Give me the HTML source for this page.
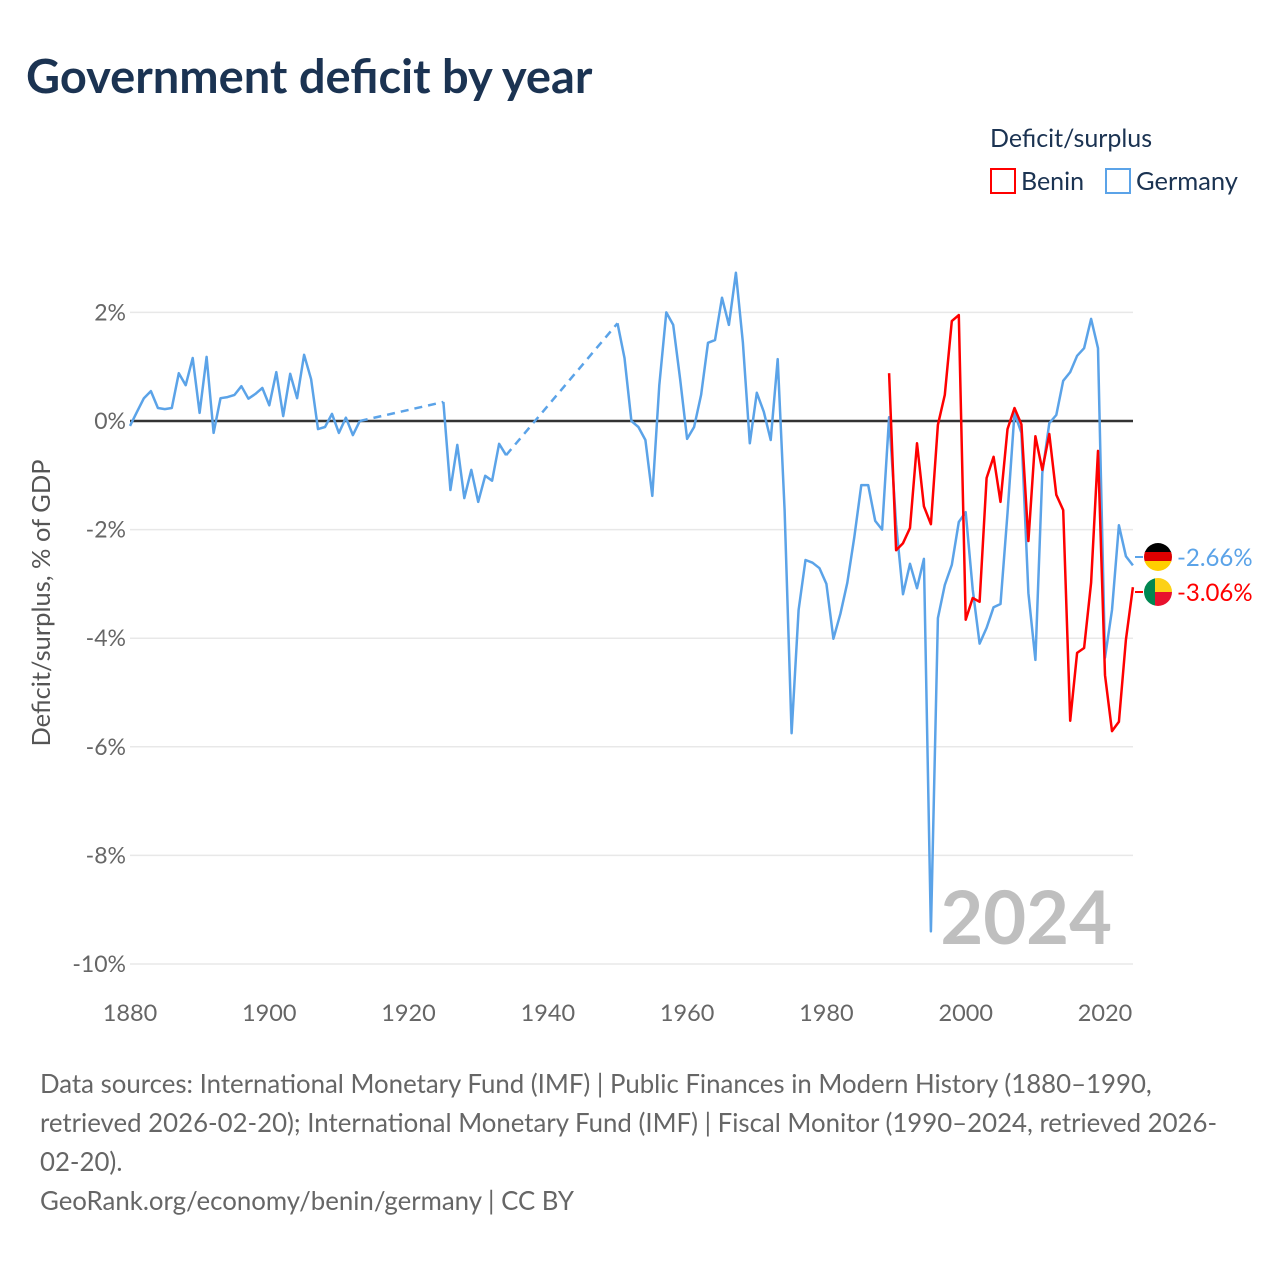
<!DOCTYPE html>
<html><head><meta charset="utf-8"><style>
body{margin:0;background:#fff;font-family:"Liberation Sans",sans-serif;}
svg text{font-family:"Lato","Liberation Sans",sans-serif;}
</style></head><body>
<svg id="chart" width="1280" height="1280" viewBox="0 0 1280 1280" xmlns="http://www.w3.org/2000/svg">
<text x="26" y="93" font-size="47" font-weight="bold" fill="#1b3352">Government deficit by year</text>
<text x="990" y="147" font-size="25" fill="#1b3352">Deficit/surplus</text>
<g><rect x="991" y="169" width="24" height="24" fill="none" stroke="#ff0000" stroke-width="2"/><text x="1021" y="190" font-size="25" fill="#1b3352">Benin</text></g>
<g><rect x="1106" y="169" width="24" height="24" fill="none" stroke="#5ba3e8" stroke-width="2"/><text x="1136" y="190" font-size="25.5" fill="#1b3352">Germany</text></g>
<g id="grid"></g><g id="yticks"></g><g id="xticks"></g>
<text transform="translate(50,603) rotate(-90)" text-anchor="middle" font-size="25.5" fill="#555">Deficit/surplus, % of GDP</text>
<text x="1112" y="944" text-anchor="end" font-size="74" font-weight="bold" fill="#bfbfbf">2024</text>
<g id="series"></g>
<g id="endlabels"></g>
<text font-size="25.8" fill="#666"><tspan x="40" y="1093">Data sources: International Monetary Fund (IMF) | Public Finances in Modern History (1880–1990,</tspan><tspan x="40" y="1132">retrieved 2026-02-20); International Monetary Fund (IMF) | Fiscal Monitor (1990–2024, retrieved 2026-</tspan><tspan x="40" y="1171">02-20).</tspan><tspan x="40" y="1210">GeoRank.org/economy/benin/germany | CC BY</tspan></text>
</svg>
<script>
const yTicks=[2,0,-2,-4,-6,-8,-10];
const xTicks=[1880,1900,1920,1940,1960,1980,2000,2020];
const germanyYears=[1880,1881,1882,1883,1884,1885,1886,1887,1888,1889,1890,1891,1892,1893,1894,1895,1896,1897,1898,1899,1900,1901,1902,1903,1904,1905,1906,1907,1908,1909,1910,1911,1912,1913,1925,1926,1927,1928,1929,1930,1931,1932,1933,1934,1950,1951,1952,1953,1954,1955,1956,1957,1958,1959,1960,1961,1962,1963,1964,1965,1966,1967,1968,1969,1970,1971,1972,1973,1974,1975,1976,1977,1978,1979,1980,1981,1982,1983,1984,1985,1986,1987,1988,1989,1990,1991,1992,1993,1994,1995,1996,1997,1998,1999,2000,2001,2002,2003,2004,2005,2006,2007,2008,2009,2010,2011,2012,2013,2014,2015,2016,2017,2018,2019,2020,2021,2022,2023,2024];
const germanyValues=[-0.09,0.17,0.42,0.55,0.24,0.22,0.24,0.88,0.66,1.16,0.15,1.18,-0.22,0.42,0.44,0.48,0.64,0.41,0.5,0.61,0.29,0.9,0.09,0.87,0.42,1.22,0.77,-0.15,-0.11,0.13,-0.22,0.06,-0.26,0.0,0.35,-1.27,-0.44,-1.42,-0.9,-1.49,-1.01,-1.1,-0.42,-0.63,1.8,1.16,0.0,-0.11,-0.35,-1.38,0.66,2.0,1.77,0.76,-0.33,-0.11,0.48,1.44,1.49,2.27,1.77,2.73,1.44,-0.41,0.52,0.17,-0.35,1.14,-1.64,-5.75,-3.48,-2.56,-2.61,-2.71,-3.0,-4.01,-3.55,-2.98,-2.14,-1.18,-1.18,-1.84,-2.0,0.07,-1.9,-3.19,-2.63,-3.08,-2.54,-9.4,-3.63,-3.02,-2.65,-1.86,-1.68,-3.1,-4.1,-3.81,-3.43,-3.37,-1.7,0.15,-0.22,-3.17,-4.4,-0.96,-0.04,0.11,0.74,0.9,1.2,1.34,1.88,1.34,-4.36,-3.48,-1.92,-2.49,-2.66];
const beninYears=[1989,1990,1991,1992,1993,1994,1995,1996,1997,1998,1999,2000,2001,2002,2003,2004,2005,2006,2007,2008,2009,2010,2011,2012,2013,2014,2015,2016,2017,2018,2019,2020,2021,2022,2023,2024];
const beninValues=[0.88,-2.38,-2.25,-1.97,-0.41,-1.57,-1.9,-0.07,0.48,1.84,1.95,-3.66,-3.26,-3.33,-1.05,-0.66,-1.49,-0.15,0.24,-0.06,-2.21,-0.28,-0.9,-0.24,-1.36,-1.64,-5.52,-4.27,-4.18,-2.98,-0.55,-4.68,-5.71,-5.54,-4.03,-3.06];
const NS='http://www.w3.org/2000/svg';
function X(yr){return 130+(yr-1880)*(975/140);}
function Y(v){return 421-v*54.3;}
function mk(tag,attrs,parent){const e=document.createElementNS(NS,tag);for(const k in attrs)e.setAttribute(k,attrs[k]);parent.appendChild(e);return e;}
const grid=document.getElementById('grid'),yt=document.getElementById('yticks'),xt=document.getElementById('xticks'),ser=document.getElementById('series'),el=document.getElementById('endlabels');
yTicks.forEach(t=>{
 const l=mk('line',{x1:130,x2:1133,y1:Y(t),y2:Y(t),stroke:'#e8e8e8','stroke-width':1.5},grid);
 
 
 const tx=mk('text',{x:126,y:Y(t)+8,'text-anchor':'end','font-size':23,fill:'#666'},yt);
 tx.textContent=t+'%';
 
 
});
const zl=mk('line',{x1:130,x2:1133,y1:Y(0),y2:Y(0),stroke:'#333','stroke-width':2.5},grid);


xTicks.forEach(t=>{
 const tx=mk('text',{x:X(t),y:1021,'text-anchor':'middle','font-size':23.5,fill:'#666'},xt);
 tx.textContent=t;
 
 
});
function drawSeries(years,vals,color,name){
 let solid='',dash='';
 for(let i=0;i<years.length;i++){
  const p=X(years[i]).toFixed(1)+','+Y(vals[i]).toFixed(1);
  if(i===0){solid+='M'+p;continue;}
  if(years[i]-years[i-1]>1){dash+='M'+X(years[i-1]).toFixed(1)+','+Y(vals[i-1]).toFixed(1)+'L'+p;solid+='M'+p;}
  else solid+='L'+p;
 }
 const s=mk('path',{d:solid,fill:'none',stroke:color,'stroke-width':2.5,'stroke-linejoin':'round'},ser);
 
 
 if(dash){const d=mk('path',{d:dash,fill:'none',stroke:color,'stroke-width':2.5,'stroke-dasharray':'8,6'},ser);
 
 }
}
drawSeries(germanyYears,germanyValues,'#5ba3e8','germany');
drawSeries(beninYears,beninValues,'#ff0000','benin');
function endLabel(v,color,name,flagY){
 const ly=flagY;
 mk('line',{x1:1135,x2:1143,y1:ly,y2:ly,stroke:color,'stroke-width':2},el);
 const g=mk('g',{},el);
 
 
 if(name==='germany'){
  mk('rect',{x:1144,y:ly-14,width:28,height:10,fill:'#000'},g);
  mk('rect',{x:1144,y:ly-5,width:28,height:10,fill:'#dd0000'},g);
  mk('rect',{x:1144,y:ly+4,width:28,height:10,fill:'#ffce00'},g);
 } else {
  mk('rect',{x:1144,y:ly-14,width:11,height:28,fill:'#008751'},g);
  mk('rect',{x:1155,y:ly-14,width:17,height:14,fill:'#fcd116'},g);
  mk('rect',{x:1155,y:ly,width:17,height:14,fill:'#e8112d'},g);
 }
 const cp=mk('clipPath',{id:'c'+name},el);
 mk('circle',{cx:1158,cy:ly,r:14},cp);
 g.setAttribute('clip-path','url(#c'+name+')');
 const t=mk('text',{x:1177,y:ly+9,'font-size':24,fill:color},el);
 t.textContent=v.toFixed(2)+'%';
 
 
}
endLabel(germanyValues[germanyValues.length-1],'#5ba3e8','germany',557);
endLabel(beninValues[beninValues.length-1],'#ff0000','benin',592);
</script>
</body></html>
